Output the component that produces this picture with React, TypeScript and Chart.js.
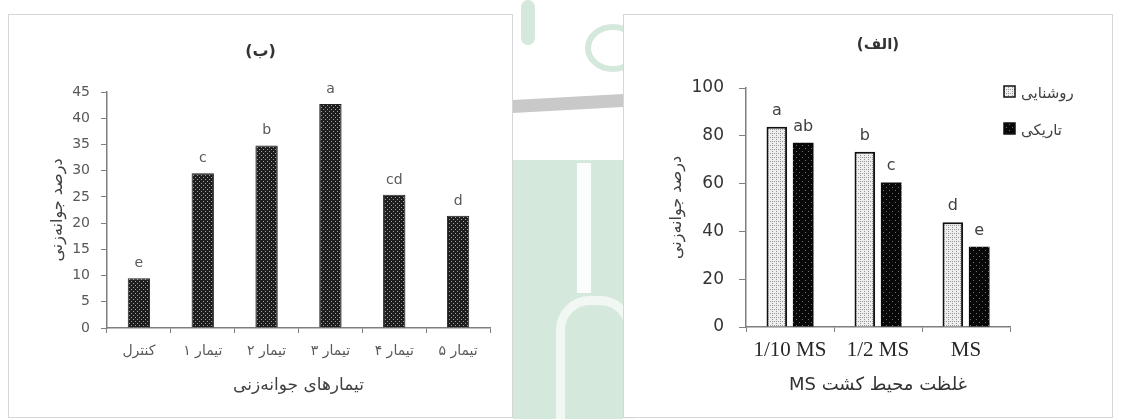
import React, { useEffect, useRef } from "react";
import { Chart, registerables } from "chart.js";

Chart.register(...registerables);

// ---- Left panel (ب) data ----
const leftCategories = ["کنترل", "تیمار ۱", "تیمار ۲", "تیمار ۳", "تیمار ۴", "تیمار ۵"];
const leftValues = [9.5, 29.5, 34.8, 42.7, 25.4, 21.4];
const leftLetters = ["e", "c", "b", "a", "cd", "d"];
const leftTitle = "(ب)";
const leftXTitle = "تیمارهای جوانه‌زنی";
const leftYTitle = "درصد جوانه‌زنی";

// ---- Right panel (الف) data ----
const rightCategories = ["1/10 MS", "1/2 MS", "MS"];
const seriesNames = ["روشنایی", "تاریکی"];
const lightValues = [83.8, 73.3, 43.8];
const darkValues = [77.1, 60.5, 33.6];
const lightLetters = ["a", "b", "d"];
const darkLetters = ["ab", "c", "e"];
const rightTitle = "(الف)";
const rightXTitle = "غلظت محیط کشت MS";
const rightYTitle = "درصد جوانه‌زنی";

const FONT = "'DejaVu Sans', sans-serif";

function makePattern(bg: string, dot: string, size: number, dots: number[][]) {
  const c = document.createElement("canvas");
  c.width = size;
  c.height = size;
  const x = c.getContext("2d")!;
  x.fillStyle = bg;
  x.fillRect(0, 0, size, size);
  x.fillStyle = dot;
  dots.forEach(([a, b]) => x.fillRect(a, b, 1, 1));
  return x.createPattern(c, "repeat")!;
}

const annotPlugin = {
  id: "annot",
  afterDatasetsDraw(chart: any, _args: any, o: any) {
    const ctx = chart.ctx;
    const area = chart.chartArea;
    ctx.save();
    ctx.direction = "ltr";
    ctx.font = o.letterFont;
    ctx.fillStyle = o.letterColor;
    ctx.textAlign = "center";
    ctx.textBaseline = "alphabetic";
    (o.letters || []).forEach((arr: string[], di: number) => {
      chart.getDatasetMeta(di).data.forEach((bar: any, i: number) => {
        ctx.fillText(arr[i], bar.x, bar.y - o.letterGap);
      });
    });
    // chart title
    ctx.direction = "rtl";
    ctx.font = o.titleFont;
    ctx.fillStyle = o.titleColor;
    ctx.textBaseline = "middle";
    const tx = o.titleAtArea ? (area.left + area.right) / 2 : chart.width / 2;
    ctx.fillText(o.title, tx, o.titleY);
    // right-to-left x-axis title (when not drawn by the scale)
    if (o.xTitle) {
      ctx.font = o.xTitleFont;
      ctx.fillStyle = o.xTitleColor;
      ctx.textAlign = "center";
      ctx.fillText(o.xTitle, (area.left + area.right) / 2, o.xTitleY);
    }
    // legend
    if (o.legend) {
      chart.data.datasets.forEach((ds: any, k: number) => {
        const bx = area.right + o.legendDX;
        const by = o.legendY + k * o.legendGap;
        ctx.fillStyle = ds.backgroundColor;
        ctx.fillRect(bx, by, o.legendBox, o.legendBox);
        ctx.lineWidth = 1.5;
        ctx.strokeStyle = "#111";
        ctx.strokeRect(bx, by, o.legendBox, o.legendBox);
        ctx.fillStyle = "#404040";
        ctx.font = o.legendFont;
        ctx.textAlign = "left";
        ctx.textBaseline = "middle";
        ctx.fillText(ds.label, bx + o.legendBox + 6, by + o.legendBox / 2 + 3);
      });
    }
    ctx.restore();
  },
};

export default function App() {
  const leftRef = useRef<HTMLCanvasElement>(null);
  const rightRef = useRef<HTMLCanvasElement>(null);

  useEffect(() => {
    const leftPattern = makePattern("#1e1e1e", "#a0a0a0", 4, [
      [0, 0],
      [2, 2],
    ]);
    const darkPattern = makePattern("#080808", "#6e6e6e", 6, [
      [1, 1],
      [4, 4],
    ]);
    const lightPattern = makePattern("#eeeeee", "#999999", 4, [
      [0, 0],
      [2, 2],
      [0, 2],
    ]);

    const axisColor = "#7f7f7f";

    const c1 = new Chart(leftRef.current!, {
      type: "bar",
      data: {
        labels: leftCategories,
        datasets: [
          {
            label: leftYTitle,
            data: leftValues,
            backgroundColor: leftPattern as any,
            borderColor: "#222",
            borderWidth: 1,
            barPercentage: 0.35,
            categoryPercentage: 1,
          },
        ],
      },
      options: {
        responsive: false,
        animation: false,
        layout: { padding: { top: 77, right: 22, left: 0, bottom: 0 } },
        plugins: {
          legend: { display: false },
          tooltip: { enabled: false },
          annot: {
            letters: [leftLetters],
            letterFont: `14px ${FONT}`,
            letterColor: "#595959",
            letterGap: 11,
            title: leftTitle,
            titleFont: `bold 16px ${FONT}`,
            titleColor: "#333",
            titleY: 37,
            titleAtArea: false,
          },
        } as any,
        scales: {
          x: {
            grid: { display: true, drawOnChartArea: false, drawTicks: true, tickLength: 5, color: axisColor, offset: true },
            border: { display: true, color: axisColor, width: 1.5 },
            ticks: { font: { family: FONT, size: 14 }, color: "#595959", padding: 10 },
            title: {
              display: true,
              text: leftXTitle,
              font: { family: FONT, size: 17 },
              color: "#404040",
              padding: { top: 0, bottom: 21 },
            },
            afterFit: (s: any) => {
              s.height = 89;
            },
          },
          y: {
            min: 0,
            max: 45,
            grid: { display: true, drawOnChartArea: false, drawTicks: true, tickLength: 6, color: axisColor },
            border: { display: true, color: axisColor, width: 1.5 },
            ticks: { stepSize: 5, font: { family: FONT, size: 14 }, color: "#595959", padding: 11 },
            title: {
              display: true,
              text: leftYTitle,
              font: { family: FONT, size: 16 },
              color: "#404040",
              padding: { top: 39, bottom: 0 },
            },
            afterFit: (s: any) => {
              s.width = 98;
            },
          },
        },
      },
      plugins: [annotPlugin as any],
    });

    const c2 = new Chart(rightRef.current!, {
      type: "bar",
      data: {
        labels: rightCategories,
        datasets: [
          {
            label: seriesNames[0],
            data: lightValues,
            backgroundColor: lightPattern as any,
            borderColor: "#111",
            borderWidth: 2,
            barPercentage: 0.78,
            categoryPercentage: 0.6,
          },
          {
            label: seriesNames[1],
            data: darkValues,
            backgroundColor: darkPattern as any,
            borderColor: "#000",
            borderWidth: 0,
            barPercentage: 0.78,
            categoryPercentage: 0.6,
          },
        ],
      },
      options: {
        responsive: false,
        animation: false,
        layout: { padding: { top: 73, right: 102, left: 0, bottom: 0 } },
        plugins: {
          legend: { display: false },
          tooltip: { enabled: false },
          annot: {
            letters: [lightLetters, darkLetters],
            letterFont: `16px ${FONT}`,
            letterColor: "#404040",
            letterGap: 12,
            title: rightTitle,
            titleFont: `bold 15px ${FONT}`,
            titleColor: "#333",
            titleY: 30,
            titleAtArea: true,
            xTitle: rightXTitle,
            xTitleFont: `18px ${FONT}`,
            xTitleColor: "#333",
            xTitleY: 370,
            legend: true,
            legendDX: -6,
            legendY: 71,
            legendGap: 37,
            legendBox: 11,
            legendFont: `15px ${FONT}`,
          },
        } as any,
        scales: {
          x: {
            grid: { display: true, drawOnChartArea: false, drawTicks: true, tickLength: 5, color: axisColor, offset: true },
            border: { display: true, color: axisColor, width: 1.5 },
            ticks: { font: { family: "'Liberation Serif', serif", size: 21 }, color: "#262626", padding: 6 },
            title: { display: false },
            afterFit: (s: any) => {
              s.height = 90;
            },
          },
          y: {
            min: 0,
            max: 100,
            grid: { display: true, drawOnChartArea: false, drawTicks: true, tickLength: 7, color: axisColor },
            border: { display: true, color: axisColor, width: 1.5 },
            ticks: { stepSize: 20, font: { family: FONT, size: 17 }, color: "#333", padding: 15 },
            title: {
              display: true,
              text: rightYTitle,
              font: { family: FONT, size: 16 },
              color: "#404040",
              padding: { top: 43, bottom: 0 },
            },
            afterFit: (s: any) => {
              s.width = 122;
            },
          },
        },
      },
      plugins: [annotPlugin as any],
    });

    return () => {
      c1.destroy();
      c2.destroy();
    };
  }, []);

  const green = "#d4e8db";
  return (
    <div
      style={{
        position: "absolute",
        left: 0,
        top: 0,
        width: 1124,
        height: 419,
        background: "#ffffff",
        overflow: "hidden",
      }}
    >
      {/* faint watermark shapes in the gap between panels */}
      <div style={{ position: "absolute", left: 513, top: 160, width: 110, height: 259, background: green }} />
      <div style={{ position: "absolute", left: 577, top: 163, width: 14, height: 130, background: "#fbfdfc" }} />
      <div
        style={{
          position: "absolute",
          left: 556,
          top: 296,
          width: 60,
          height: 150,
          border: "9px solid #f1f8f4",
          borderRadius: 34,
        }}
      />
      <div
        style={{
          position: "absolute",
          left: 513,
          top: 97,
          width: 110,
          height: 13,
          background: "#c9c9c9",
          transform: "skewY(-3deg)",
        }}
      />
      <div style={{ position: "absolute", left: 521, top: 0, width: 14, height: 45, background: green, borderRadius: 7 }} />
      <div
        style={{
          position: "absolute",
          left: 585,
          top: 24,
          width: 44,
          height: 36,
          border: "6px solid " + green,
          borderRadius: "50%",
        }}
      />
      <div
        style={{
          position: "absolute",
          left: 8,
          top: 14,
          width: 503,
          height: 402,
          border: "1px solid #d6d6d6",
          background: "#ffffff",
        }}
      >
        <canvas ref={leftRef} dir="rtl" width={503} height={402} style={{ display: "block", width: 503, height: 402 }} />
      </div>
      <div
        style={{
          position: "absolute",
          left: 623,
          top: 14,
          width: 488,
          height: 402,
          border: "1px solid #d6d6d6",
          background: "#ffffff",
        }}
      >
        <canvas ref={rightRef} dir="ltr" width={488} height={402} style={{ display: "block", width: 488, height: 402 }} />
      </div>
    </div>
  );
}
